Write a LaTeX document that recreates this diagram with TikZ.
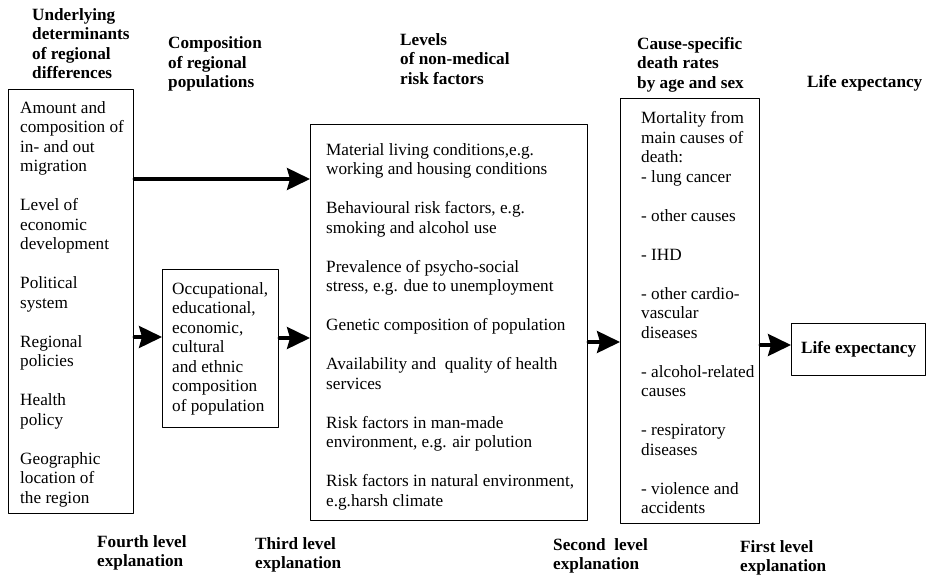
\documentclass[tikz,border=0pt]{standalone}
\usepackage{fontspec}
\setmainfont{Liberation Serif}
\usetikzlibrary{arrows.meta}
\begin{document}
\begin{tikzpicture}[x=1pt,y=-1pt,line cap=round,line join=round,
  box/.style={draw,line width=1.3pt,inner sep=0pt,anchor=north west},
  txt/.style={anchor=north west,inner sep=0pt,align=left,font=\fontsize{17.2}{19.5}\selectfont},
  head/.style={txt,font=\fontsize{17.2}{19.5}\selectfont\bfseries},
  flow/.style={line width=3.2pt,-{Stealth[length=23pt,width=22pt,inset=3pt]}}]
  \useasboundingbox (0,0) rectangle (930,576);
  \node[box,minimum width=125pt,minimum height=424pt] (det) at (8,89) {};
  \node[box,minimum width=116pt,minimum height=158pt] (comp) at (162,269) {};
  \node[box,minimum width=277pt,minimum height=396pt] (risk) at (310,124) {};
  \node[box,minimum width=139pt,minimum height=425pt] (mort) at (620,98) {};
  \node[box,minimum width=134pt,minimum height=52pt,font=\fontsize{17.2}{19.5}\selectfont\bfseries] (life) at (791,323) {Life expectancy};
  \node[head] (hdet) at (32,6.4) {\strut Underlying\\determinants\\of regional\\differences};
  \node[head] (hcomp) at (168,34.9) {\strut Composition\\of regional\\populations};
  \node[head] (hrisk) at (400,31.4) {\strut Levels\\of non-medical\\risk factors};
  \node[head] (hmort) at (637,35.4) {\strut Cause-specific\\death rates\\by age and sex};
  \node[head] (hlife) at (807,73.4) {\strut Life expectancy};
  \node[txt] (tdet) at (20,99.4) {\strut Amount and\\composition of\\in- and out\\migration\\[19.5pt]Level of\\economic\\development\\[19.5pt]Political\\system\\[19.5pt]Regional\\policies\\[19.5pt]Health\\policy\\[19.5pt]Geographic\\location of\\the region};
  \node[txt] (tcomp) at (172,280.4) {\strut Occupational,\\educational,\\economic,\\cultural\\and ethnic\\composition\\of population};
  \node[txt] (trisk) at (326,141.4) {\strut Material living conditions,e.g.\\working and housing conditions\\[19.5pt]Behavioural risk factors, e.g.\\smoking and alcohol use\\[19.5pt]Prevalence of psycho-social\\stress, e.g. due to unemployment\\[19.5pt]Genetic composition of population\\[19.5pt]Availability and\ \ quality of health\\services\\[19.5pt]Risk factors in man-made\\environment, e.g. air polution\\[19.5pt]Risk factors in natural environment,\\e.g.harsh climate};
  \node[txt] (tmort) at (641,109.9) {\strut Mortality from\\main causes of\\death:\\- lung cancer\\[19.5pt]- other causes\\[19.5pt]- IHD\\[19.5pt]- other cardio-\\vascular\\diseases\\[19.5pt]- alcohol-related\\causes\\[19.5pt]- respiratory\\diseases\\[19.5pt]- violence and\\accidents};
  \node[head] (lv4) at (97,533.4) {\strut Fourth level\\explanation};
  \node[head] (lv3) at (255,535.4) {\strut Third level\\explanation};
  \node[head] (lv2) at (553,536.4) {\strut Second\ \ level\\explanation};
  \node[head] (lv1) at (740,538.4) {\strut First level\\explanation};
  \coordinate (ya) at (0,179);
  \coordinate (yb) at (0,337);
  \coordinate (yc) at (0,338);
  \coordinate (yd) at (0,342);
  \coordinate (ye) at (0,345);
  \draw[flow] (det.east |- ya) -- (risk.west |- ya);
  \draw[flow] (det.east |- yb) -- (comp.west |- yb);
  \draw[flow] (comp.east |- yc) -- (risk.west |- yc);
  \draw[flow] (risk.east |- yd) -- (mort.west |- yd);
  \draw[flow] (mort.east |- ye) -- (life.west |- ye);
\end{tikzpicture}
\end{document}
